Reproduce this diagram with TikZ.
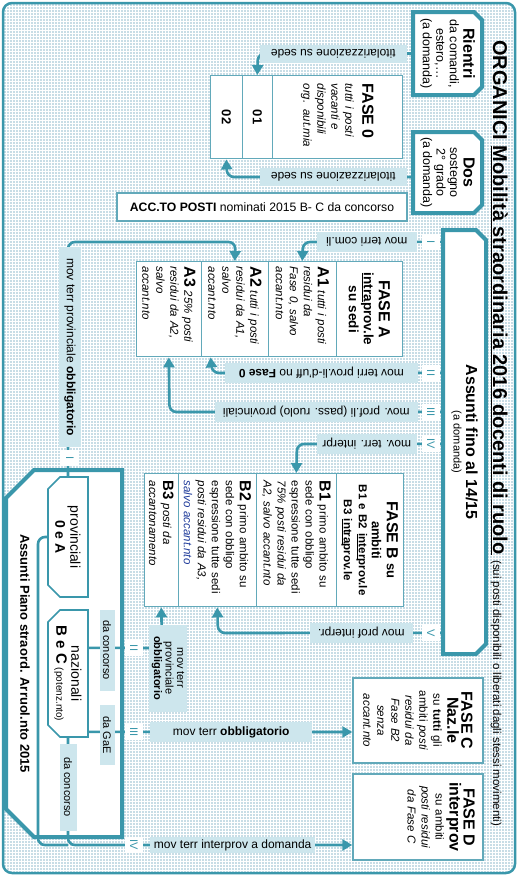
\documentclass[tikz,border=0pt]{standalone}
\usepackage{fontspec}
\setmainfont{Liberation Sans}
\usetikzlibrary{arrows.meta}
\usetikzlibrary{calc}
\definecolor{petrol}{HTML}{3A97AB}
\definecolor{cellline}{HTML}{62A9BA}
\definecolor{lblue}{HTML}{CDE6ED}
\definecolor{bgblue}{HTML}{C8DDE6}
\definecolor{accblue}{HTML}{1E3A9A}
\newcommand{\fsz}[2]{\fontsize{#1}{#2}\selectfont}
\tikzset{x=1pt, y=1pt,
srcline/.style={ % thick outline of the groups of teachers
draw=petrol, line width=4pt, fill=white},
boxline/.style={draw=petrol, line width=1.6pt, fill=white},
srctext/.style={inner sep=0pt, align=center, font=\fsz{12.5}{13.5}},
cell/.style={ % one row of a phase table
draw=cellline, line width=1.4pt, fill=white, inner sep=0pt,
font=\fsz{11.5}{14}},
link/.style={draw=petrol, line width=2.6pt, rounded corners=7pt,
-{Triangle[length=10pt,width=11pt]}},
feed/.style={draw=petrol, line width=2.6pt, rounded corners=7pt},
lab/.style={fill=lblue, inner sep=0pt, minimum height=20pt,
font=\fsz{12}{14}},
roman/.style={fill=white, text=petrol, inner sep=1pt,
minimum width=16pt, minimum height=18pt, font=\fsz{11}{12}}}

\begin{document}
\begin{tikzpicture}
\begin{scope}[rotate=-90, transform shape]
\path[use as bounding box] (0,0) rectangle (876,518);
% background
\fill[bgblue, rounded corners=9pt] (3,3) rectangle (873,515);
\begin{scope}
\clip[rounded corners=9pt] (3,3) rectangle (873,515);
\draw[white, line width=.6pt, step=3] (3,3) grid (873,515);
\end{scope}
\draw[petrol, line width=2.5pt, rounded corners=9pt] (3,3) rectangle (873,515);

\node[anchor=base west, inner sep=0pt] (title) at (40,493) {\fsz{20}{24}\bfseries ORGANICI \underline{Mobilità straordinaria 2016 docenti di ruolo} {\fsz{11.5}{13}\mdseries (sui posti disponibili o liberati dagli stessi movimenti)}};

% groups
\draw[srcline] (12,413) -- (12,474) -- (20,482) -- (87,482) -- (95,474) -- (95,413) -- cycle;
\node[srctext, minimum width=83, minimum height=69] (rientri) at (53.5,447.5) {{\fsz{16}{18}\bfseries Rientri}\\da comandi,\\estero,…\\(a domanda)};
\draw[srcline] (132,413) -- (132,474) -- (140,482) -- (205,482) -- (213,474) -- (213,413) -- cycle;
\node[srctext, minimum width=81, minimum height=69] (dos) at (172.5,447.5) {{\fsz{16}{18}\bfseries Dos}\\sostegno\\2° grado\\(a domanda)};
\draw[srcline] (230,443) -- (230,476) -- (240,486) -- (644,486) -- (654,476) -- (654,443) -- cycle;
\node[srctext, minimum width=424, minimum height=43, font=\fsz{11}{12.5}] (afino) at (442,464.5) {{\fsz{16}{18}\bfseries Assunti fino al 14/15}\\(a domanda)};
\draw[srcline] (470,122) -- (470,34) -- (498,6) -- (809,6) -- (837,34) -- (837,122) -- cycle;
\node[font=\fsz{13}{15}\bfseries] (apiano) at (653.5,25) {Assunti Piano straord. Arruol.nto 2015};
\draw[boxline] (477,88) -- (477,60) -- (489,48) -- (585,48) -- (597,60) -- (597,88) -- cycle;
\node[srctext, minimum width=120, minimum height=40, font=\fsz{14}{15}] (prov) at (537,68) {provinciali\\\textbf{0 e A}};
\draw[boxline] (610,88) -- (610,60) -- (622,48) -- (725,48) -- (737,60) -- (737,88) -- cycle;
\node[srctext, minimum width=127, minimum height=40, font=\fsz{14}{15}] (naz) at (673.5,68) {nazionali\\{\fsz{15}{15}\bfseries B e C} {\fsz{10}{11}(potenz.nto)}};

% phases
\node[cell, anchor=north west, minimum width=83, minimum height=130, text width=67, align=left] (F0) at (75,403) {{\fsz{16}{19}\bfseries FASE 0}\\[3pt]\itshape tutti i posti\\vacanti e\\disponibili\\org. aut.mia};
\node[cell, anchor=north west, minimum width=83, minimum height=30, font=\fsz{13}{14}\bfseries] (F01) at (75,273) {01};
\node[cell, anchor=north west, minimum width=83, minimum height=32, font=\fsz{13}{14}\bfseries] (F02) at (75,243) {02};
\node[cell, rotate=90, minimum width=290, minimum height=28, font=\fsz{12.2}{14}] (acc) at (207,262) {\textbf{ACC.TO POSTI} nominati 2015 B- C da concorso};

\node[cell, anchor=north west, minimum width=95, minimum height=66, text width=85, align=center, font=\fsz{13.5}{15}\bfseries] (FA) at (261,403) {{\fsz{16}{18}FASE A}\\\underline{intra}prov.le\\su sedi};
\node[cell, anchor=north west, minimum width=95, minimum height=68, text width=85, align=left] (A1) at (261,337) {{\fsz{16}{16}\bfseries A1} \itshape tutti i posti\\residui da\\Fase 0, salvo\\accant.nto};
\node[cell, anchor=north west, minimum width=95, minimum height=67, text width=85, align=left] (A2) at (261,269) {{\fsz{16}{16}\bfseries A2} \itshape tutti i posti\\residui da A1,\\salvo\\accant.nto};
\node[cell, anchor=north west, minimum width=95, minimum height=65, text width=85, align=left] (A3) at (261,202) {{\fsz{16}{16}\bfseries A3} \itshape 25\% posti\\residui da A2,\\salvo\\accant.nto};

\node[cell, anchor=north west, minimum width=133, minimum height=67, text width=125, align=center, font=\fsz{13}{15}\bfseries] (FB) at (473,404) {{\fsz{16}{18}FASE B} su\\ambiti\\{\fsz{11.5}{13}B1 e B2 \underline{inter}prov.le\\B3 \underline{intra}prov.le}};
\node[cell, anchor=north west, minimum width=133, minimum height=80, text width=119, align=left] (B1) at (473,337) {{\fsz{16}{16}\bfseries B1} primo ambito su\\sede con obbligo\\espressione tutte sedi\\\itshape 75\% posti residui da\\A2, salvo accant.nto};
\node[cell, anchor=north west, minimum width=133, minimum height=78, text width=119, align=left] (B2) at (473,257) {{\fsz{16}{16}\bfseries B2} primo ambito su\\sede con obbligo\\espressione tutte sedi\\\itshape posti residui da A3,\\\color{accblue}salvo accant.nto};
\node[cell, anchor=north west, minimum width=133, minimum height=34, text width=119, align=left] (B3) at (473,179) {{\fsz{15}{15}\bfseries B3} \itshape posti da\\accantonamento};

\node[cell, minimum width=85, minimum height=130, text width=80, align=center] (FC) at (720.5,418) {{\fsz{16}{17}\bfseries FASE C\\Naz.le}\\su \textbf{tutti} gli\\ambiti \textit{posti}\\\itshape residui da\\Fase B2\\senza\\accant.nto};
\node[cell, minimum width=86, minimum height=130] (FD) at (817,418) {};
\node[anchor=north, text width=80, align=center, inner sep=0pt, font=\fsz{11.5}{14}] (FDt) at (817,475) {{\fsz{16}{17}\bfseries FASE D\\interprov}\\su ambiti\\\itshape posti residui\\da Fase C};

% moves
\draw[link] (rientri.south) -- (53.5,258) -- (F01.west);
\draw[link] ($(dos.south)+(4.5,0)$) -- (177,227) -- (F02.east);
\draw[link] ($(afino.south west)+(12,0)$) -- (242,303) -- (A1.west);
\draw[link] ($(afino.south west)+(143,0)$) -- (373,212) -- ($(A2.south east)+(0,10)$);
\draw[link] ($(afino.south west)+(182,0)$) -- (412,169.5) -- (A3.east);
\draw[link] ($(afino.south west)+(214,0)$) -- (444,297) -- (B1.west);
\draw[link] ($(afino.south west)+(403,0)$) -- (633,218) -- (B2.east);
\draw[link] (prov.west) -- (242,68) -- (242,235.5) -- (A2.west);
\draw[feed] (prov.south) -- (537,38) -- (845,38) -- (845,68);
\draw[link] (naz.east) -- (845,68) -- ($(FD.south)+(28,0)$);
\draw[link] ($(naz.north west)+(38,0)$) -- (648,162) -- (B3.east);
\draw[link] ($(naz.north west)+(122,0)$) -- ($(FC.south)+(11.5,0)$);

% labels on the moves
\node[lab, rotate=-90, anchor=west, minimum width=147, minimum height=18] (tit1) at (53.5,407) {titolarizzazione su sede};
\node[lab, rotate=-90, anchor=west, minimum width=147, minimum height=18] (tit2) at (177,407) {titolarizzazione su sede};
\node[lab, rotate=-90, anchor=west, minimum width=100] (mcom) at (242,417) {mov terri com.li};
\node[lab, rotate=-90, anchor=west, minimum width=193] (mduff) at (373,418) {mov terri prov.li-d'uff no \textbf{Fase 0}};
\node[lab, rotate=-90, anchor=west, minimum width=203] (mprof) at (412,418) {mov. prof.li (pass. ruolo) provinciali};
\node[lab, rotate=-90, anchor=west, minimum width=100] (minter) at (444,417) {mov. terr. interpr};
\node[lab, rotate=-90, anchor=west, minimum width=103] (mpint) at (633,413) {mov prof interpr.};
\node[lab, minimum width=200, minimum height=22] (mprov) at (347,70) {mov terr provinciale \textbf{obbligatorio}};
\node[lab, minimum width=81, minimum height=15, font=\fsz{11}{12}] (dac1) at (650,107) {da concorso};
\node[lab, minimum width=60, minimum height=15, font=\fsz{11}{12}] (dagae) at (735,107) {da GaE};
\node[lab, minimum width=87, minimum height=17, font=\fsz{11}{12}] (dac2) at (787,68) {da concorso};
\node[lab, minimum width=87, minimum height=38, align=center, font=\fsz{11}{11.5}] (mprov2) at (668,168) {mov terr\\provinciale\\\textbf{obbligatorio}};
\node[lab, rotate=90, anchor=west, minimum width=162, minimum height=20] (mobb) at (732,150) {mov terr \textbf{obbligatorio}};
\node[lab, rotate=90, anchor=west, minimum width=165, minimum height=16] (mintd) at (845,150) {mov terr interprov a domanda};

\node[roman] (r1) at (242,431) {I};
\node[roman] (r2) at (373,431) {II};
\node[roman] (r3) at (412,431) {III};
\node[roman] (r4) at (444,431) {IV};
\node[roman] (r5) at (633,431) {V};
\node[roman] (l1) at (458,70) {I};
\node[roman] (l2) at (648,134) {II};
\node[roman] (l3) at (732,134) {III};
\node[roman] (l4) at (845,134) {IV};
\end{scope}
\end{tikzpicture}
\end{document}
